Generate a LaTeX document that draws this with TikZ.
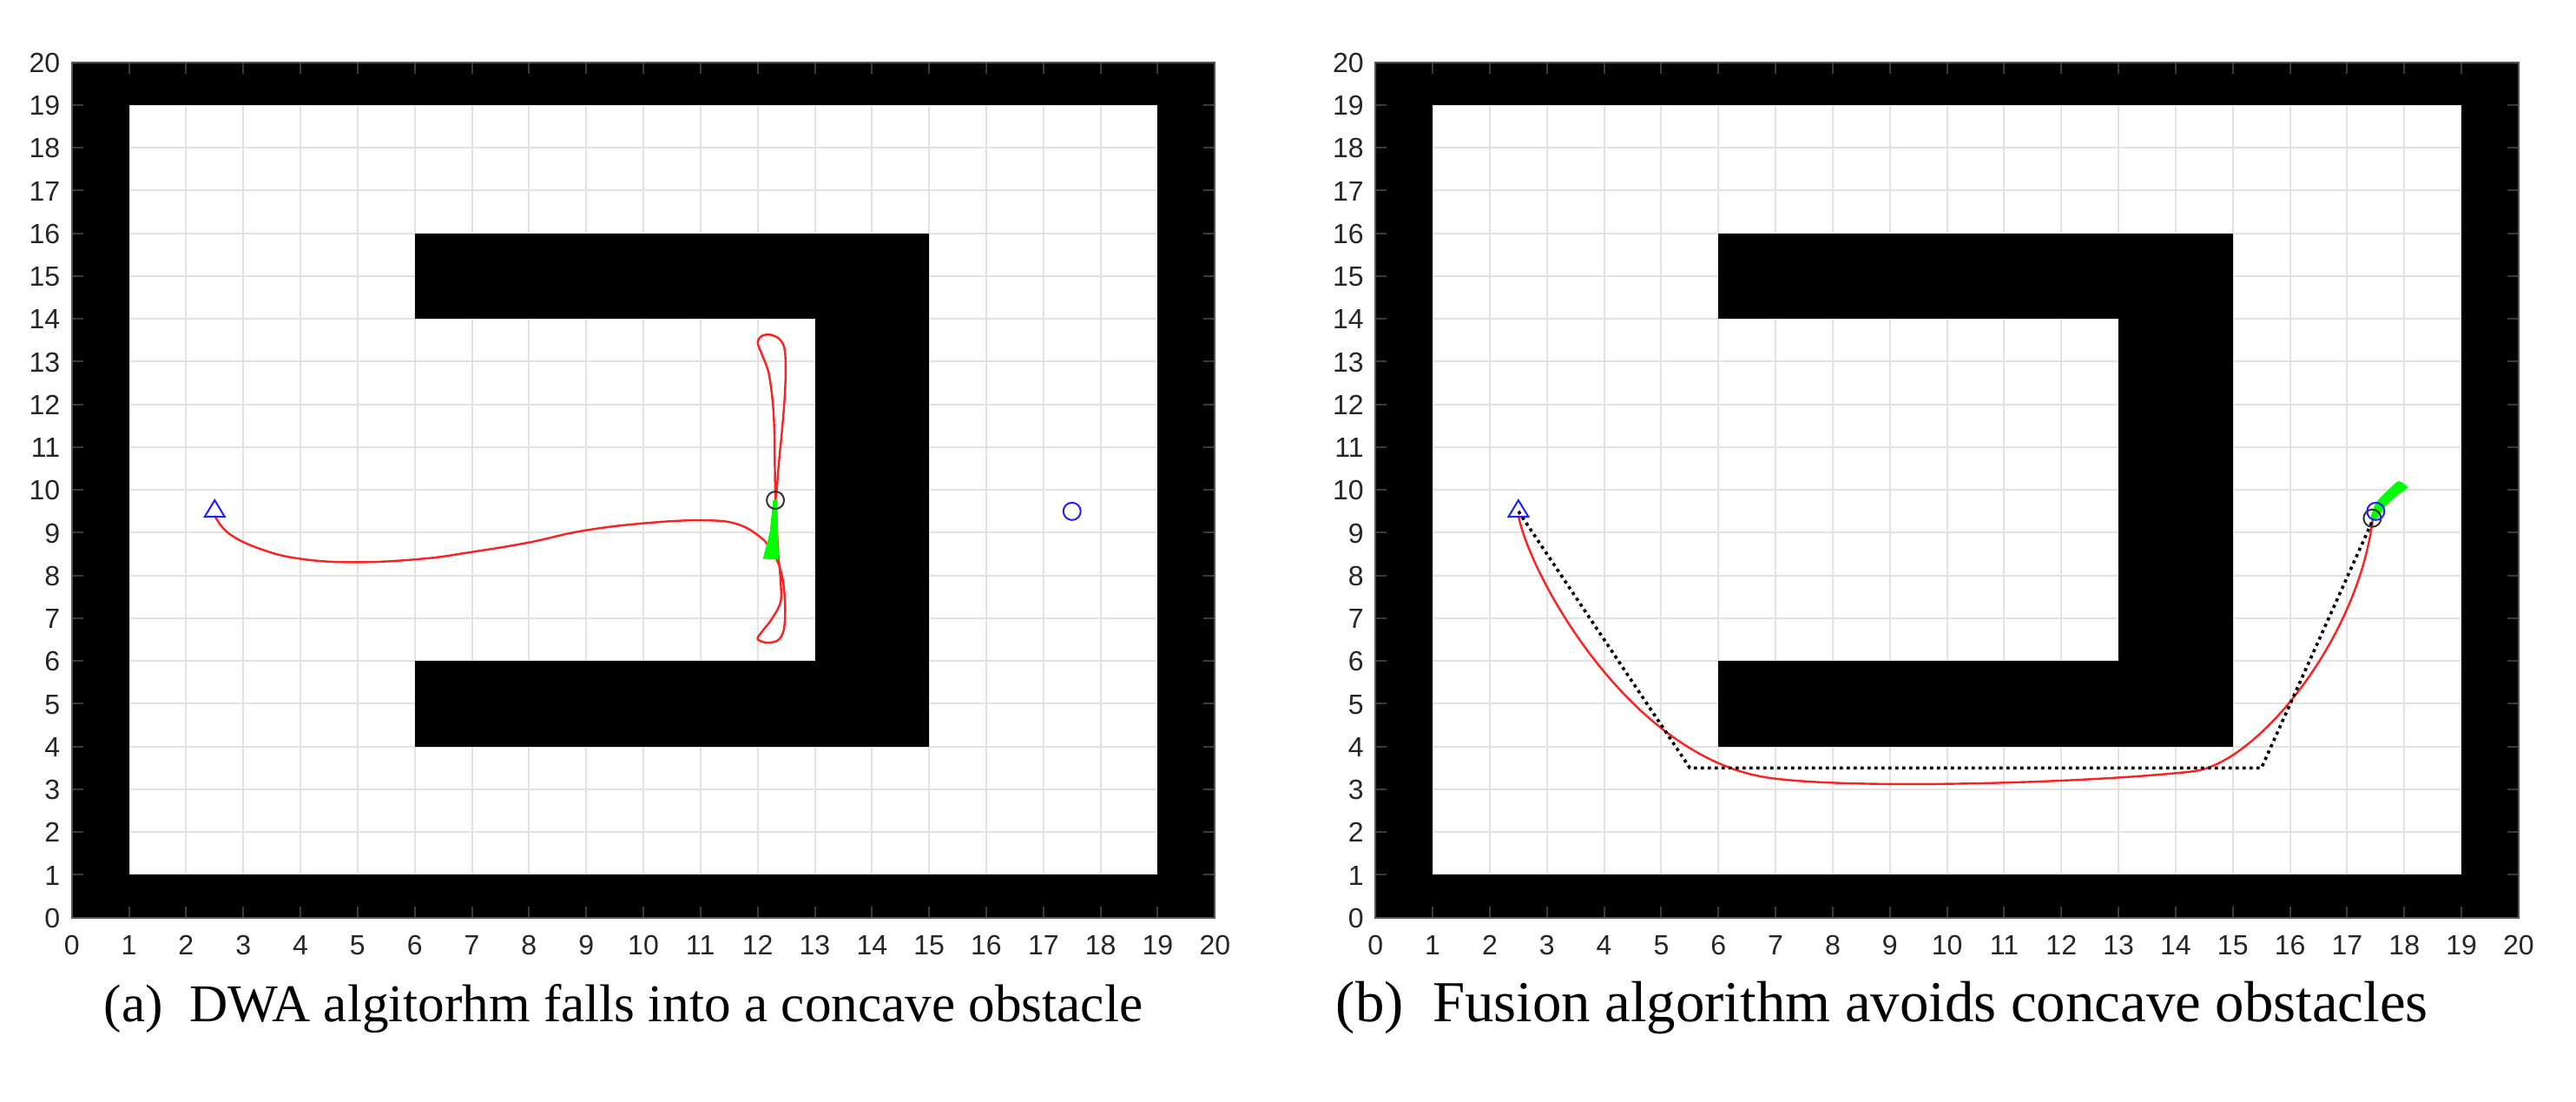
\documentclass[tikz,border=0pt]{standalone}
\usepackage{fontspec}
\setmainfont{Liberation Serif}
\newfontfamily\axfont{Liberation Sans}
\definecolor{axgray}{HTML}{262626}
\definecolor{boxgray}{HTML}{555555}
\definecolor{tickgray}{HTML}{3A3A3A}
\definecolor{gridgray}{HTML}{E2E2E2}
\definecolor{mgreen}{HTML}{00FF00}
\definecolor{mblue}{HTML}{2020FF}
\definecolor{mred}{HTML}{FF2020}
\definecolor{robgray}{HTML}{333333}
\tikzset{
  plotscope/.style={x=16.4575pt, y=12.3125pt},
  ticklab/.style={font=\axfont\fontsize{8}{9.6}\selectfont, text=axgray, inner sep=0pt},
  caption/.style={anchor=base west, inner sep=0pt},
  gridline/.style={draw=gridgray, line width=0.5pt},
  tickline/.style={draw=tickgray, line width=0.5pt},
  obstacle/.style={fill=black},
  trajline/.style={draw=mred, line width=0.6pt, line join=round},
  refpath/.style={draw=black, line width=0.9pt, dash pattern=on 0.9pt off 1.1pt},
  sweep/.style={fill=mgreen},
  startmark/.style={draw=mblue, line width=0.5pt},
  goalmark/.style={draw=mblue, line width=0.5pt},
  robotmark/.style={draw=robgray, line width=0.5pt},
}
\newcommand{\mapaxes}[1]{%
  \fill[white] (0,0) rectangle (20,20);
  \foreach \i in {0,...,20} {
    \draw[gridline] (\i,0) -- (\i,20);
    \draw[gridline] (0,\i) -- (20,\i);
  }
  \fill[obstacle] (0,0) rectangle (20,1);
  \fill[obstacle] (0,19) rectangle (20,20);
  \fill[obstacle] (0,0) rectangle (1,20);
  \fill[obstacle] (19,0) rectangle (20,20);
  \fill[obstacle] (6,14) rectangle (15,16);
  \fill[obstacle] (13,4) rectangle (15,16);
  \fill[obstacle] (6,4) rectangle (15,6);
  \foreach \i in {0,...,20} {
    \draw[tickline] (\i,0) -- ++(0,3.25pt);
    \draw[tickline] (\i,20) -- ++(0,-3.25pt);
    \draw[tickline] (0,\i) -- ++(3.25pt,0);
    \draw[tickline] (20,\i) -- ++(-3.25pt,0);
    \node[ticklab, anchor=base east] (#1-y\i) at ([xshift=-3.2pt,yshift=-2.9pt]0,\i) {\i};
    \node[ticklab, anchor=base] (#1-x\i) at ([yshift=-10.8pt]\i,0) {\i};
  }
  \draw[draw=boxgray, line width=0.5pt] (0,0) rectangle (20,20);
}
\newcommand{\startgoal}[1]{%
  \coordinate (#1-start) at (2.5,9.5);
  \coordinate (#1-goal) at (17.5,9.5);
  \draw[startmark] ([yshift=3.2pt]#1-start) -- ([xshift=2.9pt,yshift=-1.6pt]#1-start)
     -- ([xshift=-2.9pt,yshift=-1.6pt]#1-start) -- cycle;
  \draw[goalmark] (#1-goal) circle[radius=2.5pt];
}
\begin{document}
\begin{tikzpicture}
\useasboundingbox (0,0) rectangle (741.75pt,317pt);
\fill[white] (0,0) rectangle (741.75pt,317pt);

% ---------- (a) ----------
\begin{scope}[plotscope, shift={(20.675pt,52.825pt)}]
  \mapaxes{la}
  \draw[trajline] plot[smooth, tension=0.7] coordinates {
    (2.5,9.4) (2.75,8.98) (3.3,8.62) (4.0,8.39) (4.97,8.31) (6.13,8.39)
    (7.0,8.55) (7.99,8.77) (8.92,9.04) (10.0,9.22) (11.09,9.29) (11.71,9.17) (12.13,8.80)};
  \draw[trajline] plot[smooth, tension=0.55] coordinates {
    (12.13,8.80)
    (12.34,8.35) (12.44,7.9) (12.48,7.3) (12.46,6.75) (12.36,6.49) (12.16,6.43)
    (12.0,6.51) (12.06,6.66) (12.24,6.97) (12.40,7.38) (12.40,7.9) (12.36,8.5)
    (12.33,9.3) (12.31,9.81) (12.30,10.6) (12.29,11.44) (12.26,12.1) (12.19,12.75)
    (12.08,13.15) (12.0,13.45) (12.07,13.6) (12.22,13.63) (12.38,13.53)
    (12.47,13.3) (12.49,12.79) (12.47,12.11) (12.42,11.3) (12.37,10.62)
    (12.33,9.95) (12.31,9.78)};
  \fill[sweep] (12.27,9.76) -- (12.34,9.78) -- (12.37,8.37) -- (12.09,8.39)
     -- (12.16,8.73) -- (12.21,9.0) -- cycle;
  \coordinate (la-robot) at (12.31,9.76);
  \draw[robotmark] (la-robot) circle[radius=2.5pt];
  \startgoal{la}
\end{scope}
\node[caption, font=\fontsize{15.3}{18}\selectfont] (capa) at (29.75pt,23pt) {(a)\ \ DWA algitorhm falls into a concave obstacle};

% ---------- (b) ----------
\begin{scope}[plotscope, shift={(396.075pt,52.825pt)}]
  \mapaxes{rb}
  \coordinate (rb-t0) at (2.5,9.4);
  \coordinate (rb-t1) at (7.0,3.25);
  \coordinate (rb-t2) at (14.3,3.42);
  \coordinate (rb-t3) at (17.45,9.35);
  \draw[trajline] (rb-t0) .. controls (2.7,8.0) and (4.5,3.6) .. (rb-t1)
     .. controls (8.5,3.0) and (12.5,3.15) .. (rb-t2)
     .. controls (15.4,3.58) and (17.2,6.5) .. (rb-t3);
  \coordinate (rb-c1) at (5.5,3.5);
  \coordinate (rb-c2) at (15.5,3.5);
  \coordinate (rb-end) at (17.45,9.3);
  \coordinate (rb-st) at (2.5,9.5);
  \draw[refpath] (rb-st) -- (rb-c1) -- (rb-c2) -- (rb-end);
  \fill[sweep, rounded corners=0.8pt] (17.40,9.33) -- (17.49,9.68) -- (17.62,9.88)
     -- (17.90,10.23) -- (18.08,10.06) -- (17.86,9.86) -- (17.67,9.62) -- (17.51,9.30) -- cycle;
  \coordinate (rb-robot) at (17.44,9.34);
  \draw[robotmark] (rb-robot) circle[radius=2.5pt];
  \startgoal{rb}
\end{scope}
\node[caption, font=\fontsize{16.7}{19}\selectfont] (capb) at (384.5pt,23pt) {(b)\ \ Fusion algorithm avoids concave obstacles};
\end{tikzpicture}
\end{document}
